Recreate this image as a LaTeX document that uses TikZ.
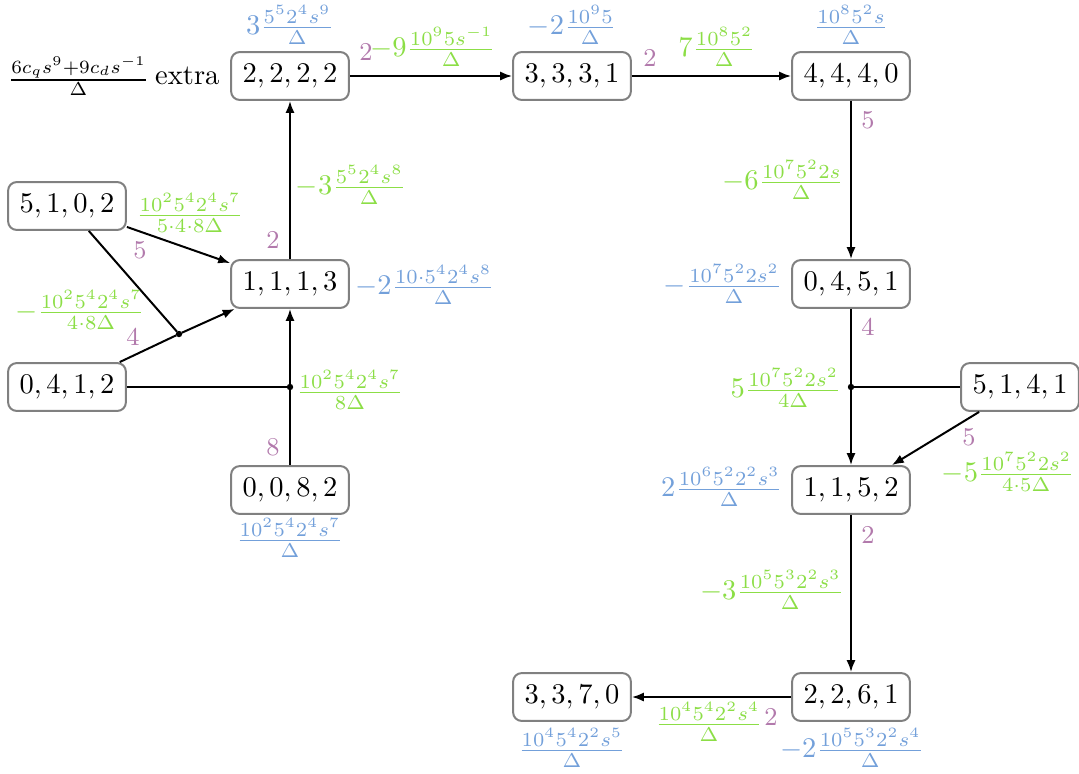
\documentclass[tikz,border=0pt]{standalone}
\usepackage{graphicx}
\usetikzlibrary{arrows.meta}
\definecolor{cgreen}{RGB}{140,222,70}
\definecolor{cblue}{RGB}{115,160,218}
\definecolor{cpurple}{RGB}{178,122,172}
\definecolor{cgray}{RGB}{128,128,128}
\begin{document}
\begin{tikzpicture}[x=0.351pt,y=-0.351pt,
  state/.style={draw=cgray, line width=0.7pt, rounded corners=3pt, fill=white,
    inner xsep=4pt, inner ysep=4.2pt, text height=6.5pt, text depth=1.9pt},
  edge/.style={line width=0.7pt, -{Latex[length=4.2pt,width=3.2pt]}},
  plain/.style={line width=0.7pt},
  junc/.style={circle, draw, fill=black, inner sep=0pt, minimum size=1.6pt, line width=0.6pt},
  gl/.style={text=cgreen, inner sep=0pt},
  bl/.style={text=cblue, inner sep=0pt},
  pl/.style={text=cpurple, inner sep=0pt, font=\small}]
\useasboundingbox (0,0) rectangle (1079,773);

% states
\node[state] (n2222) at (290,76) {$2,2,2,2$};
\node[state] (n3331) at (572,76) {$3,3,3,1$};
\node[state] (n4440) at (851,76) {$4,4,4,0$};
\node[state] (n5102) at (67,206) {$5,1,0,2$};
\node[state] (n1113) at (290,284) {$1,1,1,3$};
\node[state] (n0412) at (67,387) {$0,4,1,2$};
\node[state] (n0082) at (290,490) {$0,0,8,2$};
\node[state] (n0451) at (851,284) {$0,4,5,1$};
\node[state] (n5141) at (1020,387) {$5,1,4,1$};
\node[state] (n1152) at (851,490) {$1,1,5,2$};
\node[state] (n2261) at (851,697) {$2,2,6,1$};
\node[state] (n3370) at (572,697) {$3,3,7,0$};

% junctions
\node[junc] (j1) at (179,334) {};
\node[junc] (j2) at (290,387) {};
\node[junc] (j3) at (851,387) {};

% connectors
\draw[edge] (n2222) -- (n3331);
\draw[edge] (n3331) -- (n4440);
\draw[edge] (n4440) -- (n0451);
\draw[edge] (n1113) -- (n2222);
\draw[edge] (n5102) -- (n1113);
\draw[plain] (n5102) -- (j1);
\draw[plain] (n0412) -- (j1);
\draw[edge] (j1) -- (n1113);
\draw[plain] (n0412) -- (j2);
\draw[plain] (n0082) -- (j2);
\draw[edge] (j2) -- (n1113);
\draw[plain] (n0451) -- (j3);
\draw[plain] (n5141) -- (j3);
\draw[edge] (j3) -- (n1152);
\draw[edge] (n5141) -- (n1152);
\draw[edge] (n1152) -- (n2261);
\draw[edge] (n2261) -- (n3370);

% extra
\node[anchor=east, inner sep=0pt] (ex) at (220,76) {\raisebox{-0.2ex}{\scalebox{0.94}{$\frac{6c_qs^9+9c_ds^{-1}}{\Delta}$}}\hspace{2.2pt}extra};

% blue state labels
\node[bl] (b2222) at (290,25) {$3\frac{5^52^4s^9}{\Delta}$};
\node[bl] (b3331) at (572,25) {$-2\frac{10^95}{\Delta}$};
\node[bl] (b4440) at (851,25) {$\frac{10^85^2s}{\Delta}$};
\node[bl] (b1113) at (425,285) {$-2\frac{10\cdot5^42^4s^8}{\Delta}$};
\node[bl] (b0082) at (290,538) {$\frac{10^25^42^4s^7}{\Delta}$};
\node[bl] (b0451) at (723,284) {$-\frac{10^75^22s^2}{\Delta}$};
\node[bl] (b1152) at (722,487) {$2\frac{10^65^22^2s^3}{\Delta}$};
\node[bl] (b3370) at (572,748) {$\frac{10^45^42^2s^5}{\Delta}$};
\node[bl] (b2261) at (852,748) {$-2\frac{10^55^32^2s^4}{\Delta}$};

% edge labels
\node[pl] (p1) at (366,52) {$2$};
\node[gl] (g1) at (433,47) {$-9\frac{10^95s^{-1}}{\Delta}$};
\node[pl] (p2) at (650,58) {$2$};
\node[gl] (g2) at (717,47) {$7\frac{10^85^2}{\Delta}$};
\node[pl] (p3) at (868,120) {$5$};
\node[gl] (g3) at (783,180) {$-6\frac{10^75^22s}{\Delta}$};
\node[pl] (p4) at (868,327) {$4$};
\node[gl] (g4) at (786,388) {$5\frac{10^75^22s^2}{4\Delta}$};
\node[pl] (p5) at (969,437) {$5$};
\node[gl] (g5) at (1008,472) {$-5\frac{10^75^22s^2}{4\cdot5\Delta}$};
\node[pl] (p6) at (868,535) {$2$};
\node[gl] (g6) at (772,590) {$-3\frac{10^55^32^2s^3}{\Delta}$};
\node[gl] (g7) at (709,722) {$\frac{10^45^42^2s^4}{\Delta}$};
\node[pl] (p7) at (771,717) {$2$};
\node[pl] (p8) at (273,240) {$2$};
\node[gl] (g8) at (351,185) {$-3\frac{5^52^4s^8}{\Delta}$};
\node[gl] (g9) at (190,213) {$\frac{10^25^42^4s^7}{5\cdot4\cdot8\Delta}$};
\node[pl] (p9) at (140,250) {$5$};
\node[gl] (g10) at (80,310) {$-\frac{10^25^42^4s^7}{4\cdot8\Delta}$};
\node[pl] (p10) at (133,337) {$4$};
\node[gl] (g11) at (350,390) {$\frac{10^25^42^4s^7}{8\Delta}$};
\node[pl] (p11) at (273,447) {$8$};
\end{tikzpicture}
\end{document}
